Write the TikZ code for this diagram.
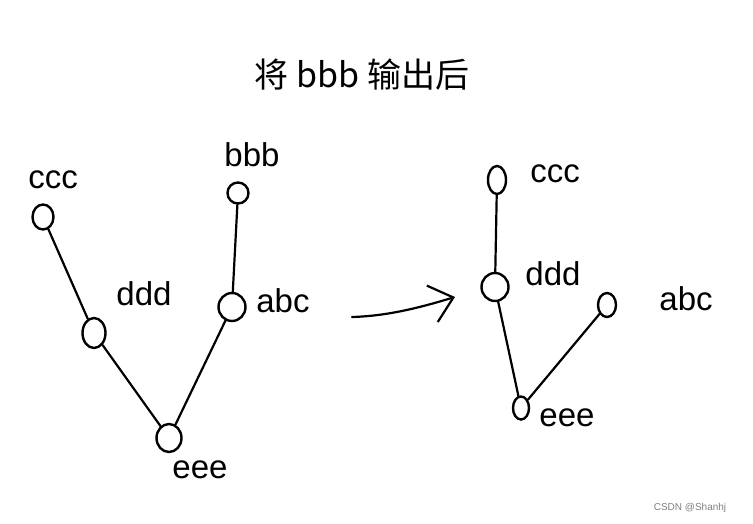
\documentclass[tikz,border=0pt]{standalone}
\usepackage{fontspec}
\setmainfont{Liberation Sans}
\newfontfamily\cjk{Noto Sans CJK SC}
\usetikzlibrary{arrows.meta,shapes.geometric}
\begin{document}
\begin{tikzpicture}[x=1pt,y=-1pt,
  vtx/.style={draw,ellipse,line width=2.4pt,inner sep=0pt},
  lbl/.style={font=\fontsize{33}{36}\selectfont},
  edge/.style={line width=2.2pt,line cap=round}]
\useasboundingbox[fill=white] (0,0) rectangle (753,523);
\node[font=\cjk\fontsize{34}{38}\selectfont] (title) at (362,75) {将 bbb 输出后};
% left tree
\node[vtx,minimum width=21pt,minimum height=25pt] (lc) at (43,217) {};
\node[vtx,minimum width=23pt,minimum height=30pt] (ld) at (94,333) {};
\node[vtx,minimum width=25pt,minimum height=28pt] (le) at (169,438) {};
\node[vtx,minimum width=21pt,minimum height=21pt] (lb) at (238,193) {};
\node[vtx,minimum width=27pt,minimum height=28pt] (la) at (232,307) {};
\node[lbl] (tlc) at (53,180) {ccc};
\node[lbl] (tld) at (144,294) {ddd};
\node[lbl] (tle) at (200,470) {eee};
\node[lbl] (tlb) at (252,155) {bbb};
\node[lbl] (tla) at (283,301) {abc};
\draw[edge] (lc) -- (ld);
\draw[edge] (ld) -- (le);
\draw[edge] (le) -- (la);
\draw[edge] (la) -- (lb);
% arrow
\coordinate (a1) at (352,317);
\coordinate (a2) at (455,297);
\draw[edge,-{Straight Barb[length=22pt,width=38pt,line width=2.2pt]}] (a1) .. controls (390,316) and (425,306) .. (a2);
% right tree
\node[vtx,minimum width=18pt,minimum height=28pt] (rc) at (497,180) {};
\node[vtx,minimum width=27pt,minimum height=28pt] (rd) at (495,287) {};
\node[vtx,minimum width=18pt,minimum height=24pt] (ra) at (607,305) {};
\node[vtx,minimum width=16pt,minimum height=23pt] (re) at (521,408) {};
\node[lbl] (trc) at (555,174) {ccc};
\node[lbl] (trd) at (553,274) {ddd};
\node[lbl] (tra) at (686,299) {abc};
\node[lbl] (tre) at (567,418) {eee};
\draw[edge] (rc) -- (rd);
\draw[edge] (rd) -- (re);
\draw[edge] (re) -- (ra);
\node[text=gray,font=\fontsize{10}{12}\selectfont] (wm) at (690,508) {CSDN @Shanhj};
\end{tikzpicture}
\end{document}
